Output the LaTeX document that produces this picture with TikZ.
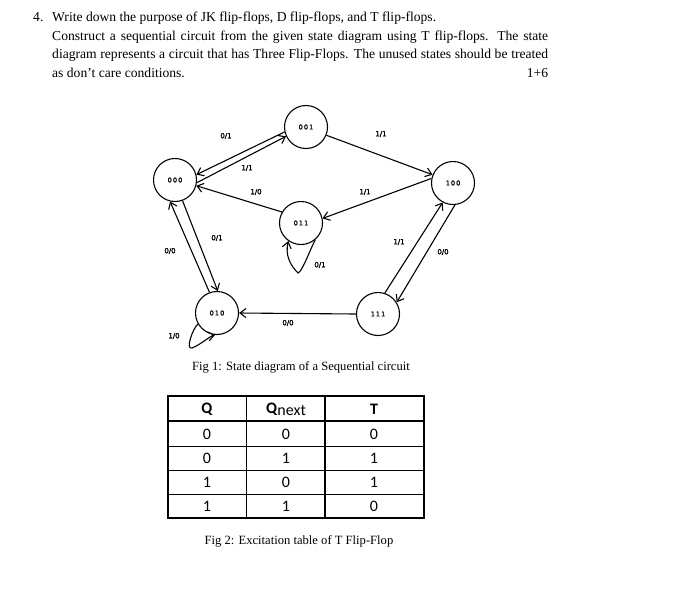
\documentclass[tikz,border=0pt]{standalone}
\usepackage{fontspec}
\setmainfont{Liberation Serif}
\newfontfamily\lbl{DejaVu Sans}[FakeBold=2]
\newfontfamily\tbl{Carlito}
\usetikzlibrary{arrows.meta,calc}
\begin{document}
\begin{tikzpicture}[x=1pt,y=-1pt,
  st/.style={circle,draw,line width=1.1pt,minimum size=43pt,inner sep=0pt,font=\lbl\fontsize{6.5}{7}\selectfont},
  tr/.style={line width=1.1pt,-{Straight Barb[length=6pt,width=9pt]}},
  lb/.style={font=\lbl\fontsize{7}{8}\selectfont,inner sep=0pt},
  para/.style={font=\fontsize{13.6}{18.5}\selectfont,inner sep=0pt,anchor=north west},
  cell/.style={font=\tbl\fontsize{16}{17}\selectfont,inner sep=0pt}]
\useasboundingbox (0,0) rectangle (700,592);
% text
\node[para] (n4) at (33,12) {4.};
\node[para,align=left] (q) at (52,12) {Write down the purpose of JK flip-flops, D flip-flops, and T flip-flops.\\
\makebox[496pt][s]{Construct a sequential circuit from the given state diagram using T flip-flops. The state}\\
\makebox[496pt][s]{diagram represents a circuit that has Three Flip-Flops. The unused states should be treated}\\
\makebox[496pt]{as don't care conditions.\hfill 1+6}};
% states
\node[st] (s000) at (175,180) {0\,0\,0};
\node[st] (s001) at (306,127) {0\,0\,1};
\node[st] (s100) at (453,183) {1\,0\,0};
\node[st] (s011) at (301,223) {0\,1\,1};
\node[st] (s010) at (217,313) {0\,1\,0};
\node[st] (s111) at (378,314) {1\,1\,1};
% edges
\draw[tr] (s001.193) -- (s000.14);
\draw[tr] (s000.-7) -- (s001.205);
\draw[tr] (s001.-22) -- (s100.158);
\draw[tr] (s100.168) -- (s011.12);
\draw[tr] (s011.150) -- (s000.-15);
\draw[tr] (s000.-70) -- (s010.88);
\draw[tr] (s010.110) -- (s000.-103);
\draw[tr] (s111.72) -- (s100.-118);
\draw[tr] (s100.-85) -- (s111.32);
\draw[tr] (s111.180) -- (s010.0);
\draw[tr] (s011.-50) .. controls (310,250) and (302,272) .. (298,273) .. controls (290,265) and (285,255) .. (s011.-125);
\draw[tr] (s010.-150) .. controls (193,328) and (185,350) .. (192,348) .. controls (200,345) and (210,336) .. (s010.-95);
% labels
\node[lb] (l1) at (226,136) {0/1};
\node[lb] (l2) at (247,168) {1/1};
\node[lb] (l3) at (381,134) {1/1};
\node[lb] (l4) at (256,192) {1/0};
\node[lb] (l5) at (365,192) {1/1};
\node[lb] (l6) at (217,238) {0/1};
\node[lb] (l7) at (170,251) {0/0};
\node[lb] (l8) at (320,265) {0/1};
\node[lb] (l9) at (399,242) {1/1};
\node[lb] (l10) at (443,252) {0/0};
\node[lb] (l11) at (288,323) {0/0};
\node[lb] (l12) at (174,336) {1/0};
\node[font=\fontsize{12.6}{14}\selectfont] (c1) at (301,367) {Fig 1: State diagram of a Sequential circuit};
% table
\draw[line width=2.2pt] (168,396) rectangle (424,518);
\draw[line width=2.2pt] (168,421) -- (424,421);
\draw[line width=2.2pt] (325,396) -- (325,518);
\draw[line width=0.6pt] (246,396) -- (246,518);
\foreach \y in {446,470,494} \draw[line width=0.6pt] (168,\y) -- (424,\y);
\node[cell] (h1) at (207,409) {\textbf{Q}};
\node[cell] (h2) at (286,409) {\textbf{Q}\raisebox{-2pt}{next}};
\node[cell] (h3) at (374,409) {\textbf{T}};
\foreach \r/\a/\b/\c in {0/0/0/0,1/0/1/1,2/1/0/1,3/1/1/0}{
  \node[cell] (ta\r) at (207,434+24*\r) {\a};
  \node[cell] (tb\r) at (286,434+24*\r) {\b};
  \node[cell] (tc\r) at (374,434+24*\r) {\c};}
\node[font=\fontsize{12.6}{14}\selectfont] (c2) at (299,541) {Fig 2: Excitation table of T Flip-Flop};
\end{tikzpicture}
\end{document}
